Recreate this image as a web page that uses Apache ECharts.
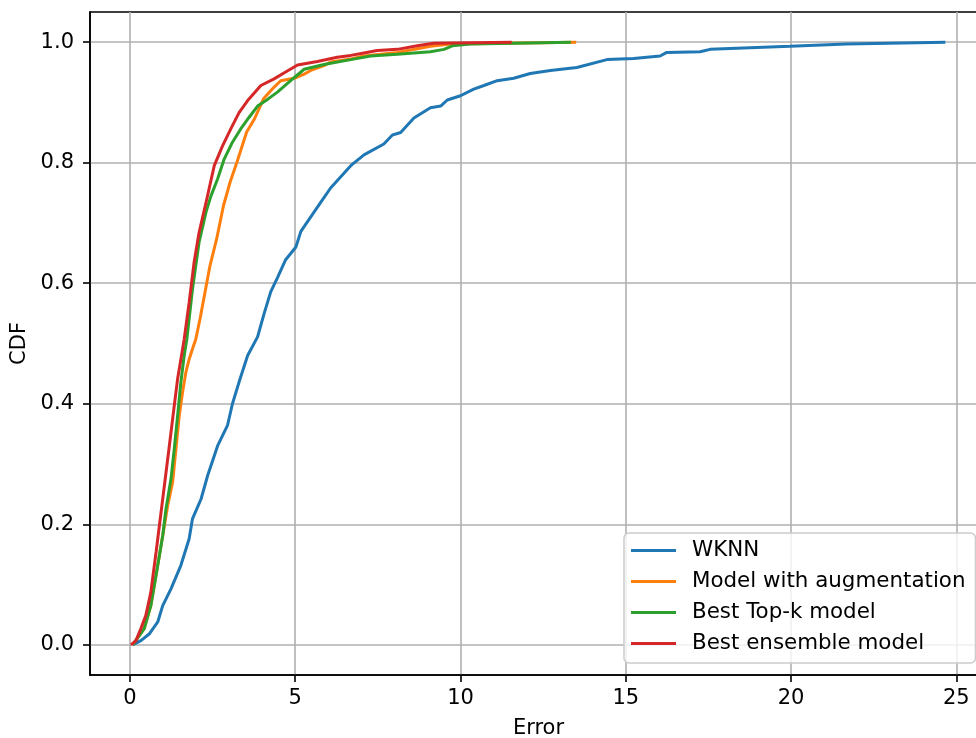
<!DOCTYPE html>
<html>
<head>
<meta charset="utf-8">
<script src="https://cdn.jsdelivr.net/npm/echarts@6/dist/echarts.min.js"></script>
<style>html,body{margin:0;padding:0;background:#fff}#c{width:976px;height:738px}</style>
</head>
<body>
<div id="c"></div>
<script>
const seriesNames = ['WKNN', 'Model with augmentation', 'Best Top-k model', 'Best ensemble model'];
const xTicks = [0, 5, 10, 15, 20, 25];
const yTicks = [0, 0.2, 0.4, 0.6, 0.8, 1.0];

const wknnX = [0.08,0.33,0.58,0.84,0.99,1.24,1.54,1.79,1.89,2.15,2.35,2.65,2.95,3.10,3.30,3.56,3.86,4.06,4.26,4.46,4.71,5.02,5.17,5.47,5.77,6.07,6.68,7.08,7.68,7.94,8.19,8.59,9.09,9.40,9.60,10.0,10.40,10.71,11.11,11.61,12.11,12.72,13.52,14.43,15.24,16.04,16.24,17.25,17.55,19.97,21.68,24.67];
const wknnY = [0.0,0.007,0.018,0.038,0.065,0.093,0.132,0.176,0.209,0.242,0.281,0.330,0.364,0.400,0.436,0.480,0.511,0.550,0.586,0.609,0.639,0.660,0.686,0.710,0.734,0.758,0.795,0.813,0.831,0.846,0.850,0.874,0.891,0.894,0.904,0.911,0.922,0.928,0.936,0.940,0.948,0.953,0.958,0.971,0.973,0.977,0.983,0.984,0.988,0.993,0.997,1.0];

const augX = [0.08,0.43,0.63,0.84,0.99,1.14,1.29,1.39,1.49,1.59,1.69,1.79,1.89,1.99,2.12,2.27,2.42,2.62,2.83,3.03,3.23,3.53,3.76,4.04,4.30,4.56,4.97,5.27,5.47,5.87,6.07,6.68,7.08,8.09,8.69,9.09,9.70,13.5];
const augY = [0.0,0.027,0.065,0.132,0.181,0.231,0.270,0.325,0.380,0.419,0.452,0.474,0.491,0.507,0.541,0.585,0.629,0.673,0.729,0.768,0.800,0.851,0.872,0.906,0.922,0.936,0.940,0.947,0.953,0.961,0.967,0.972,0.977,0.983,0.989,0.993,0.997,1.0];

const topkX = [0.08,0.13,0.43,0.63,0.84,0.99,1.09,1.24,1.34,1.44,1.54,1.64,1.72,1.89,2.09,2.30,2.45,2.65,2.85,3.10,3.35,3.60,3.86,4.16,4.46,4.86,5.27,5.87,6.68,7.28,8.09,9.09,9.50,9.75,10.30,13.34];
const topkY = [0.0,0.002,0.027,0.065,0.132,0.181,0.226,0.275,0.325,0.380,0.436,0.480,0.507,0.590,0.668,0.718,0.745,0.773,0.806,0.834,0.856,0.875,0.894,0.905,0.917,0.936,0.955,0.963,0.971,0.977,0.980,0.984,0.988,0.994,0.997,1.0];

const ensX = [0.03,0.18,0.33,0.48,0.63,0.79,0.89,0.99,1.09,1.19,1.34,1.44,1.54,1.64,1.79,1.94,2.09,2.30,2.55,2.80,3.05,3.30,3.56,3.96,4.36,4.76,5.07,5.67,6.27,6.68,7.08,7.48,8.09,8.69,9.19,11.55];
const ensY = [0.0,0.007,0.027,0.049,0.087,0.154,0.198,0.242,0.286,0.330,0.397,0.441,0.474,0.507,0.568,0.635,0.684,0.734,0.795,0.828,0.856,0.883,0.903,0.928,0.939,0.952,0.962,0.968,0.975,0.978,0.982,0.986,0.988,0.994,0.998,1.0];

const colors = ['#1f77b4', '#ff7f0e', '#2ca02c', '#d62728'];
const xs = [wknnX, augX, topkX, ensX];
const ys = [wknnY, augY, topkY, ensY];

const font = 'DejaVu Sans';
const fs = 21;
const chart = echarts.init(document.getElementById('c'), null, {renderer: 'canvas'});
chart.setOption({
  animation: false,
  backgroundColor: '#ffffff',
  color: colors,
  grid: {left: 90, top: 12, width: 897, height: 663, containLabel: false, outerBoundsMode: 'none', show: true, borderColor: '#000', borderWidth: 1.6, backgroundColor: 'transparent'},
  xAxis: {
    type: 'value', min: -1.21, max: 25.93,
    name: 'Error', nameLocation: 'middle', nameGap: 43,
    nameTextStyle: {fontFamily: font, fontSize: fs, color: '#000'},
    axisLine: {show: true, onZero: false, lineStyle: {color: '#000', width: 1.6}},
    axisTick: {show: true, inside: false, length: 7, customValues: xTicks, lineStyle: {color: '#000', width: 1.6}},
    axisLabel: {customValues: xTicks, margin: 13, fontFamily: font, fontSize: fs, color: '#000', formatter: v => String(v)},
    splitLine: {show: true, lineStyle: {color: '#b0b0b0', width: 1.6}}
  },
  yAxis: {
    type: 'value', min: -0.05, max: 1.05,
    name: 'CDF', nameLocation: 'middle', nameGap: 59, nameRotate: 90,
    nameTextStyle: {fontFamily: font, fontSize: fs, color: '#000'},
    axisLine: {show: true, onZero: false, lineStyle: {color: '#000', width: 1.6}},
    axisTick: {show: true, inside: false, length: 7, customValues: yTicks, lineStyle: {color: '#000', width: 1.6}},
    axisLabel: {customValues: yTicks, margin: 16, fontFamily: font, fontSize: fs, color: '#000', formatter: v => v.toFixed(1)},
    splitLine: {show: true, lineStyle: {color: '#b0b0b0', width: 1.6}}
  },
  legend: {
    orient: 'vertical', left: 624, top: 533,
    data: seriesNames,
    icon: 'rect', itemWidth: 45, itemHeight: 3, itemGap: 10,
    padding: [7, 10, 9, 7],
    backgroundColor: 'rgba(255,255,255,0.8)', borderColor: '#cccccc', borderWidth: 1.5, borderRadius: 5,
    textStyle: {fontFamily: font, fontSize: 21.4, lineHeight: 21, color: '#000', padding: [0, 0, 0, 11]}
  },
  series: seriesNames.map((n, i) => ({
    name: n, type: 'line', showSymbol: false, symbol: 'none',
    data: xs[i].map((x, j) => [x, ys[i][j]]),
    lineStyle: {color: colors[i], width: 3},
    itemStyle: {color: colors[i]},
    clip: false
  }))
});
</script>
</body>
</html>
